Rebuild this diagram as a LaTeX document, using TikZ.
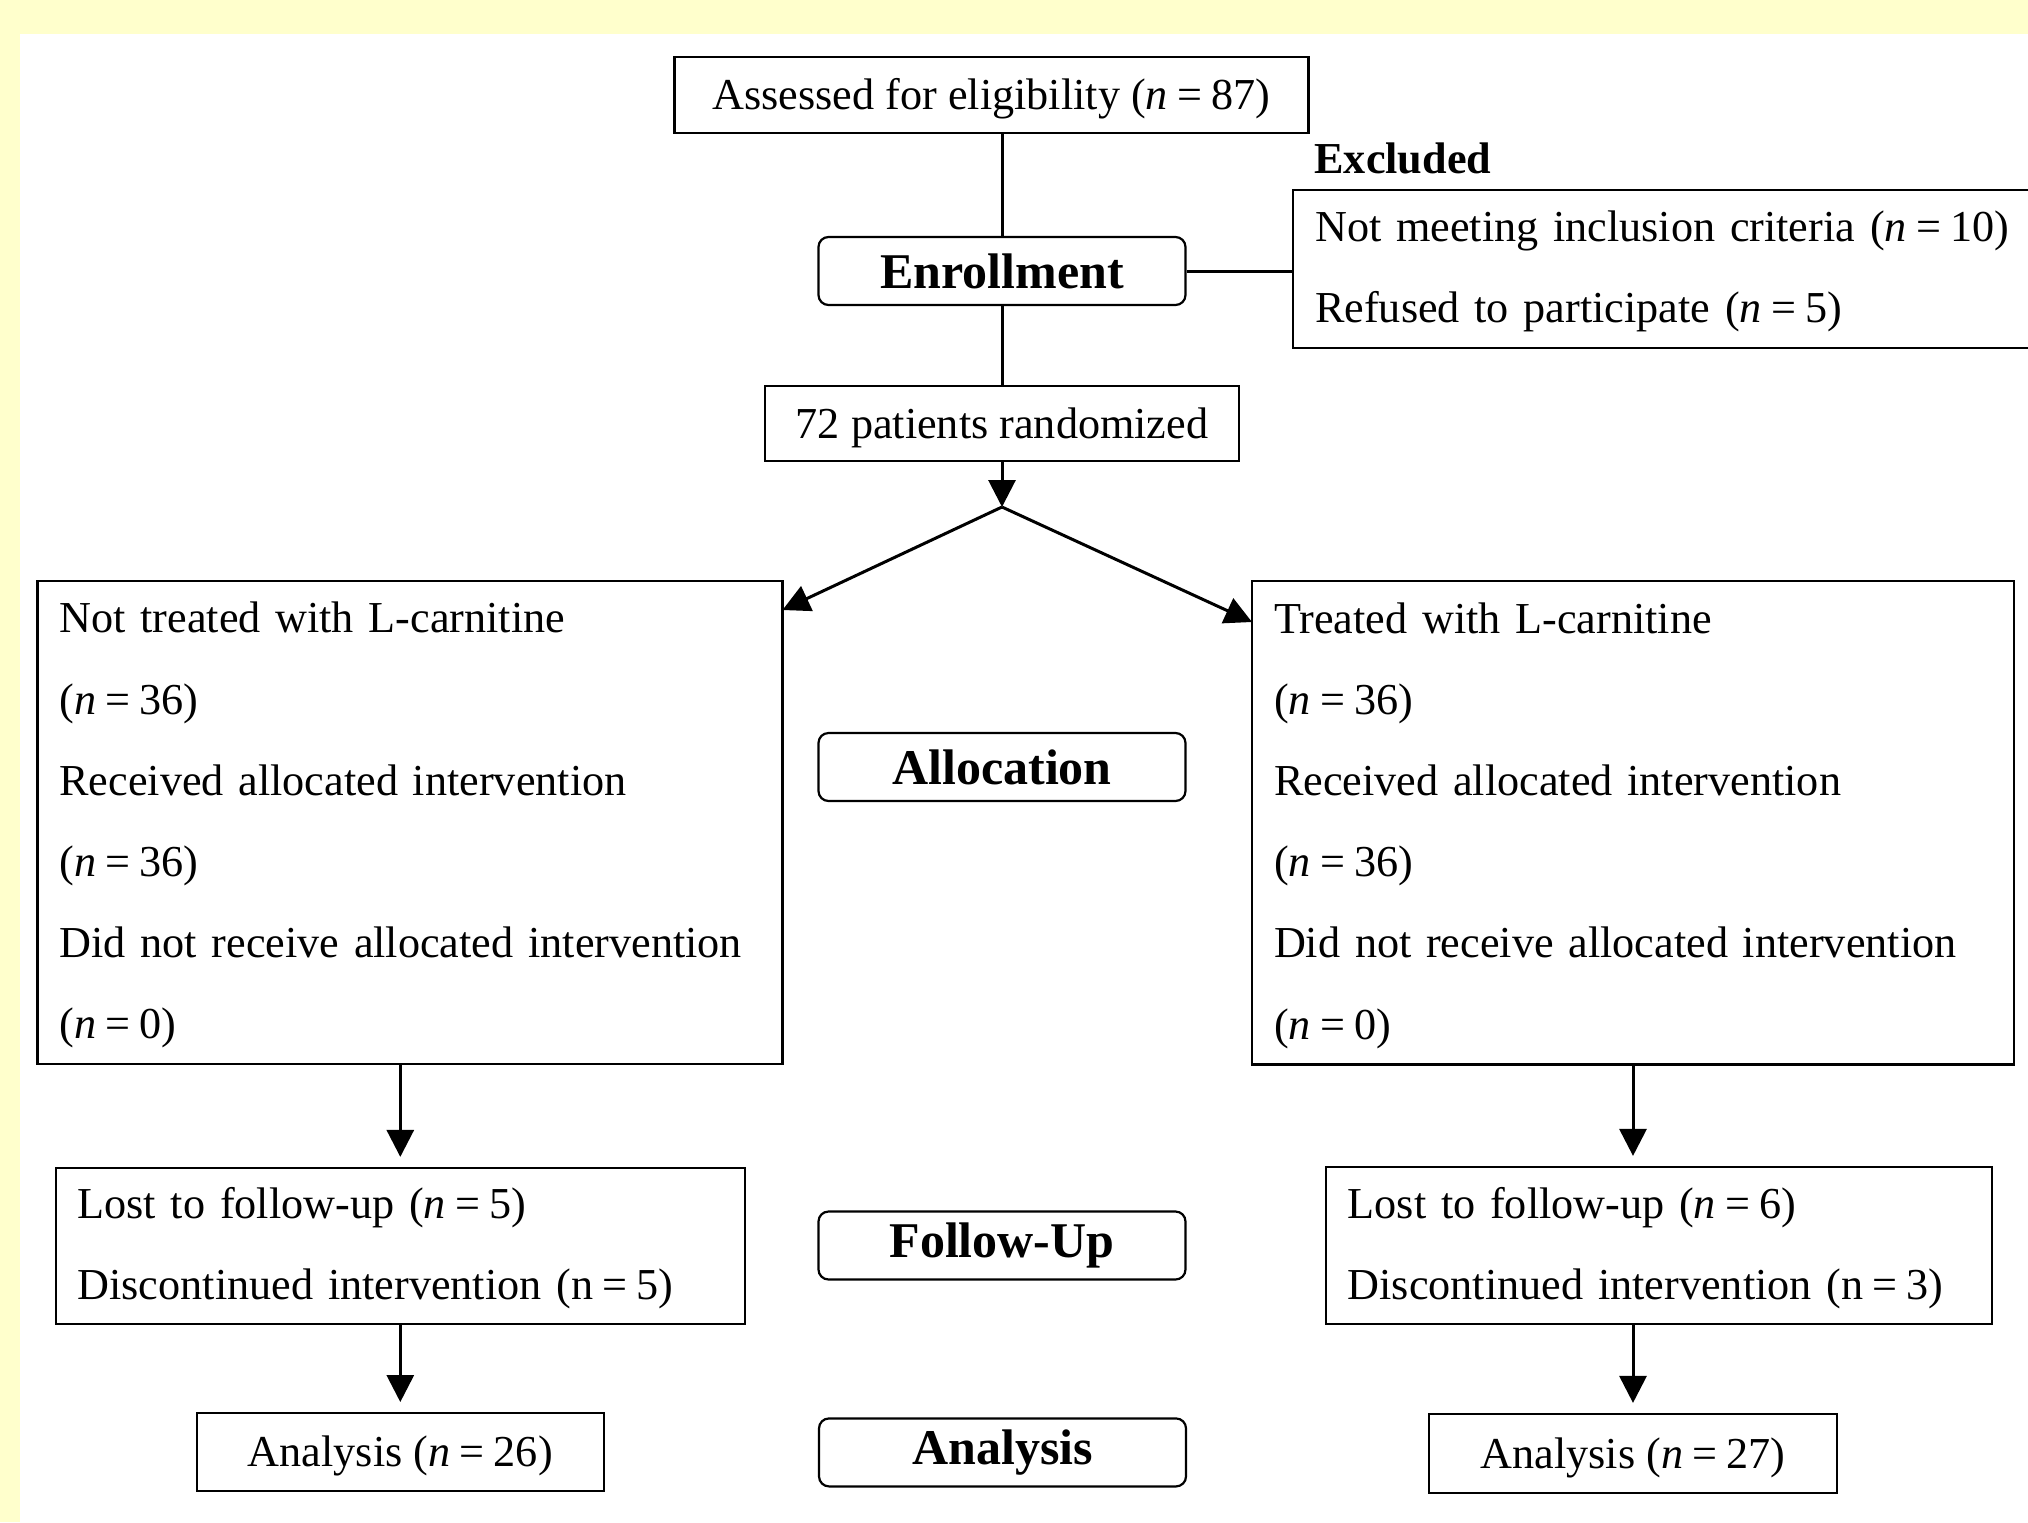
\documentclass[tikz,border=0pt]{standalone}
\usepackage{fontspec}
\setmainfont{Liberation Serif}
\usetikzlibrary{arrows.meta}
\definecolor{bgyellow}{HTML}{FFFFCC}
\newcommand{\myeq}{\hspace{0.21em}=\hspace{0.21em}}
\begin{document}
\begin{tikzpicture}[x=0.5pt,y=-0.5pt,
  box/.style={draw, line width=1.1pt, inner sep=0pt, text height=19.5pt, text depth=5pt, font=\fontsize{22.1}{27}\selectfont},
  stage/.style={draw, line width=1.1pt, rounded corners=5pt, minimum width=183.5pt, minimum height=34pt, inner sep=0pt, font=\bfseries\fontsize{25}{30}\selectfont},
  listbox/.style={draw, line width=1.1pt, align=left, inner xsep=11pt, inner ysep=0pt, font=\fontsize{22.1}{40.6}\selectfont, execute at begin node={\rule{0pt}{18pt}}},
  conn/.style={line width=1.5pt},
  arr/.style={conn, -{Triangle[length=13.5pt,width=13.5pt]}}
]
\useasboundingbox (0,0) rectangle (2028,1522);
\clip (0,0) rectangle (2028,1522);
\fill[bgyellow] (0,0) rectangle (2028,1522);
\fill[white] (20,34) rectangle (2028,1522);

\node[box, minimum width=317pt, minimum height=38.3pt] (assess) at (991.5,95) {Assessed for eligibility (\textit{n}\myeq87)};
\node[stage] (enroll) at (1002,271) {Enrollment};
\node[listbox, anchor=west, minimum width=400pt, minimum height=79pt, text width=378pt] (excl) at (1292,269) {Not meeting inclusion criteria (\textit{n}\myeq10)\\Refused to participate (\textit{n}\myeq5)};
\node[font=\bfseries\fontsize{22.1}{27}\selectfont, anchor=west, inner sep=0pt] (exlab) at (1314,158) {Excluded};
\node[box, minimum width=237.3pt, minimum height=37.35pt] (rand) at (1002,423.5) {72 patients randomized};
\coordinate (apex) at (1002,507);
\coordinate (Lin) at (782.5,610);
\coordinate (Rin) at (1252,622);

\node[listbox, minimum width=372.5pt, minimum height=241.5pt, text width=350.5pt] (L) at (410,822.5) {Not treated with L-carnitine\\(\textit{n}\myeq36)\\Received allocated intervention\\(\textit{n}\myeq36)\\Did not receive allocated intervention\\(\textit{n}\myeq0)};
\node[listbox, minimum width=381pt, minimum height=241.75pt, text width=359pt] (R) at (1633,822.75) {Treated with L-carnitine\\(\textit{n}\myeq36)\\Received allocated intervention\\(\textit{n}\myeq36)\\Did not receive allocated intervention\\(\textit{n}\myeq0)};
\node[stage] (alloc) at (1002,767) {Allocation};

\node[listbox, minimum width=344.7pt, minimum height=78pt, text width=322.7pt] (lfu) at (400.3,1246) {Lost to follow-up (\textit{n}\myeq5)\\Discontinued intervention (n\myeq5)};
\node[listbox, minimum width=333.15pt, minimum height=78.5pt, text width=311.15pt] (rfu) at (1658.9,1245.5) {Lost to follow-up (\textit{n}\myeq6)\\Discontinued intervention (n\myeq3)};
\node[stage] (fu) at (1002,1245.5) {Follow-Up};

\node[box, minimum width=203.7pt, minimum height=38.85pt] (lan) at (400.3,1452) {Analysis (\textit{n}\myeq26)};
\node[stage] (can) at (1002.5,1452.4) {Analysis};
\node[box, minimum width=203.75pt, minimum height=39.5pt] (ran) at (1633,1453.5) {Analysis (\textit{n}\myeq27)};

\draw[conn] (enroll |- assess.south) -- (enroll.north);
\draw[conn] (enroll.south) -- (rand.north);
\draw[conn] (enroll.east) -- (enroll.east -| excl.west);
\draw[arr] (rand.south) -- (apex);
\draw[arr] (apex) -- (Lin);
\draw[arr] (apex) -- (Rin);
\draw[arr, shorten >=5pt] (L.south -| lfu.north) -- (lfu.north);
\draw[arr, shorten >=5pt] (lfu.south) -- (lan.north);
\draw[arr, shorten >=5pt] (R.south) -- (R.south |- rfu.north);
\draw[arr, shorten >=5pt] (rfu.south -| ran.north) -- (ran.north);
\end{tikzpicture}
\end{document}
